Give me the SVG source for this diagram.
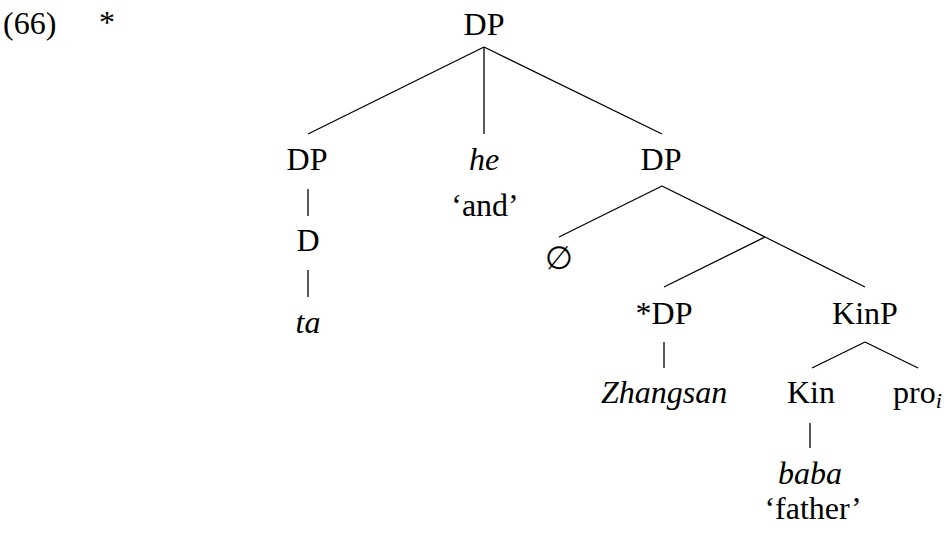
<svg xmlns="http://www.w3.org/2000/svg" width="947" height="537" viewBox="0 0 947 537">
<style>
text{font-family:"Liberation Serif","Times New Roman",serif;font-size:32px;fill:#000;text-anchor:middle}
.it{font-style:italic}
.l{text-anchor:start}
.e{stroke:#000;stroke-width:1.3;fill:none}
</style>
<rect width="947" height="537" fill="#fff"/>
<g id="label">
<text class="l" x="3" y="34">(66)</text>
<text x="107" y="33">*</text>
</g>
<g id="edges" class="e">
<line x1="484" y1="47" x2="308" y2="134"/>
<line x1="484" y1="47" x2="484" y2="134"/>
<line x1="484" y1="47" x2="662" y2="134"/>
<line x1="308" y1="189" x2="308" y2="216"/>
<line x1="308" y1="270" x2="308" y2="297"/>
<line x1="662" y1="186" x2="559" y2="237"/>
<line x1="662" y1="186" x2="765" y2="237"/>
<line x1="765" y1="237" x2="664" y2="287"/>
<line x1="765" y1="237" x2="865" y2="287"/>
<line x1="664" y1="342" x2="664" y2="368"/>
<line x1="865" y1="342" x2="812" y2="368"/>
<line x1="865" y1="342" x2="918" y2="368"/>
<line x1="810" y1="423" x2="810" y2="448"/>
</g>
<g id="n-root"><text x="484" y="35">DP</text></g>
<g id="n-dp1"><text x="307" y="170">DP</text></g>
<g id="n-d"><text x="308" y="251">D</text></g>
<g id="n-ta"><text class="it" x="308" y="333">ta</text></g>
<g id="n-he"><text class="it" x="484" y="170">he</text><text x="485" y="216">‘and’</text></g>
<g id="n-dp2"><text x="661" y="170">DP</text></g>
<g id="n-empty"><text x="559" y="269">∅</text></g>
<g id="n-sdp"><text x="664" y="324">*DP</text></g>
<g id="n-zhangsan"><text class="it" x="664" y="403">Zhangsan</text></g>
<g id="n-kinp"><text x="865" y="324">KinP</text></g>
<g id="n-kin"><text x="811" y="403">Kin</text></g>
<g id="n-pro"><text class="l" x="893" y="403">pro<tspan class="it" font-size="22" dy="5">i</tspan></text></g>
<g id="n-baba"><text class="it" x="810" y="484">baba</text><text x="813" y="519">‘father’</text></g>
</svg>
